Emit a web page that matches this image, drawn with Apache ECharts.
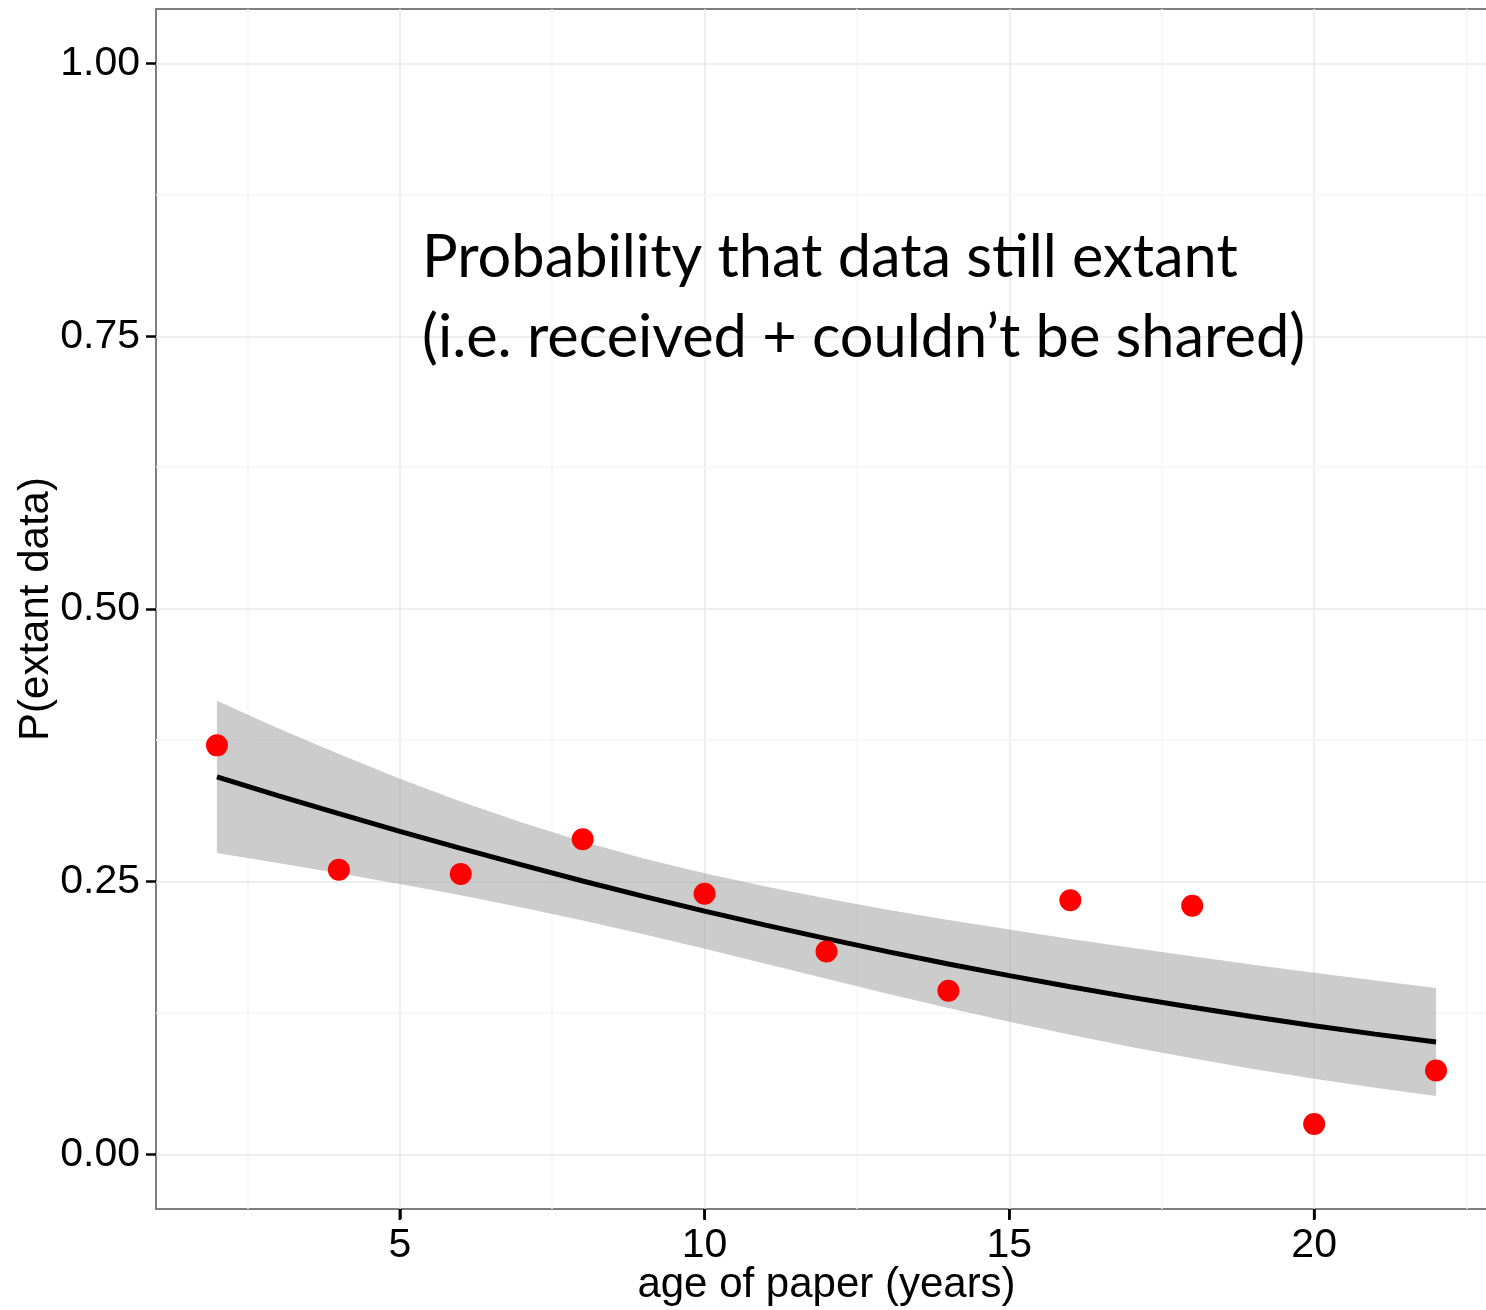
<!DOCTYPE html>
<html><head><meta charset="utf-8">
<script src="https://cdn.jsdelivr.net/npm/echarts@6/dist/echarts.min.js"></script>
<style>html,body{margin:0;padding:0;background:#fff}#c{width:1486px;height:1310px}</style>
</head><body><div id="c"></div>
<script>
// observed points: age of paper (years) vs share of data still extant
const ages = [2, 4, 6, 8, 10, 12, 14, 16, 18, 20, 22];
const extant = [0.375, 0.261, 0.257, 0.289, 0.239, 0.186, 0.150, 0.233, 0.228, 0.028, 0.077];

// fitted curve and confidence band
const fitAges = [2,3,4,5,6,7,8,9,10,11,12,13,14,15,16,17,18,19,20,21,22];
const fitValues = [0.3461,0.3290,0.3124,0.2962,0.2805,0.2654,0.2507,0.2366,0.2231,0.2102,0.1978,0.1859,0.1746,0.1639,0.1537,0.1440,0.1349,0.1262,0.1180,0.1103,0.1030];
const bandUpper = [0.4158,0.3908,0.3670,0.3445,0.3235,0.3044,0.2869,0.2714,0.2577,0.2456,0.2346,0.2244,0.2149,0.2061,0.1976,0.1895,0.1817,0.1740,0.1666,0.1595,0.1525];
const bandLower = [0.2764,0.2672,0.2578,0.2479,0.2375,0.2264,0.2145,0.2018,0.1885,0.1748,0.1610,0.1474,0.1343,0.1217,0.1098,0.0985,0.0881,0.0784,0.0694,0.0611,0.0535];

const xTicks = [5, 10, 15, 20];
const yTicks = [0, 0.25, 0.5, 0.75, 1];
const xMinor = [2.5, 7.5, 12.5, 17.5, 22.5];
const yMinor = [0.125, 0.375, 0.625, 0.875];
const xRange = [1, 23];
const yRange = [-0.05, 1.05];
const annotation = ['Probability that data still extant', '(i.e. received + couldn\u2019t be shared)'];

const FONT = "'Liberation Sans', Arial, Helvetica, sans-serif";
const ANNOT_FONT = "Lato, 'Open Sans', sans-serif";

// size the annotation font to the observed line width
const ctx = document.createElement('canvas').getContext('2d');
ctx.font = '100px ' + ANNOT_FONT;
const w100 = ctx.measureText(annotation[0]).width;
const annotSize = Math.round(100 * 816 / w100 * 10) / 10;
const annotLine = 80;
const annotTop = 266.7 - annotLine / 2 - 0.387 * annotSize + 14;

const gridLines = [];
xTicks.forEach(v => gridLines.push({xAxis: v, lineStyle: {color: '#e8e8e8', width: 1.5, type: 'solid'}}));
xMinor.forEach(v => gridLines.push({xAxis: v, lineStyle: {color: '#f6f6f6', width: 1.5, type: 'solid'}}));
yTicks.forEach(v => gridLines.push({yAxis: v, lineStyle: {color: '#e8e8e8', width: 1.5, type: 'solid'}}));
yMinor.forEach(v => gridLines.push({yAxis: v, lineStyle: {color: '#f6f6f6', width: 1.5, type: 'solid'}}));

const bandData = fitAges.map((x, i) => [x, bandLower[i], bandUpper[i]]);

const chart = echarts.init(document.getElementById('c'), null, {renderer: 'canvas'});
chart.setOption({
  animation: false,
  backgroundColor: '#fff',
  title: {
    text: annotation.join('\n'),
    left: 422, top: annotTop, padding: 0,
    textStyle: {fontFamily: ANNOT_FONT, fontSize: annotSize, fontWeight: 'normal', color: '#000', lineHeight: annotLine}
  },
  grid: {left: 156, right: -11, top: 9, bottom: 101, show: true, borderColor: '#7f7f7f', borderWidth: 2,
         backgroundColor: 'transparent', containLabel: false, outerBoundsMode: 'none'},
  xAxis: {
    type: 'value', min: xRange[0], max: xRange[1],
    axisLine: {show: true, onZero: false, lineStyle: {color: '#7f7f7f', width: 2}},
    axisTick: {show: true, inside: false, length: 10, lineStyle: {color: '#000', width: 2.5}, customValues: xTicks},
    axisLabel: {customValues: xTicks, fontSize: 41, color: '#000', fontFamily: FONT, margin: 16},
    splitLine: {show: false},
    name: 'age of paper (years)', nameLocation: 'middle', nameGap: 55, nameMoveOverlap: false,
    nameTextStyle: {fontSize: 42, color: '#000', fontFamily: FONT}
  },
  yAxis: {
    type: 'value', min: yRange[0], max: yRange[1],
    axisLine: {show: true, onZero: false, lineStyle: {color: '#7f7f7f', width: 2}},
    axisTick: {show: true, length: 10, lineStyle: {color: '#000', width: 2.5}, customValues: yTicks},
    axisLabel: {customValues: yTicks, fontSize: 41, color: '#000', fontFamily: FONT, margin: 16, formatter: v => v.toFixed(2)},
    splitLine: {show: false},
    name: 'P(extant data)', nameLocation: 'middle', nameGap: 99, nameRotate: 90, nameMoveOverlap: false,
    nameTextStyle: {fontSize: 42, color: '#000', fontFamily: FONT}
  },
  series: [
    {
      type: 'custom', silent: true, z: 2,
      data: bandData,
      encode: {x: 0, y: [1, 2]},
      renderItem: function (params, api) {
        if (params.dataIndex !== 0) return null;
        const pts = [];
        for (let i = 0; i < bandData.length; i++) pts.push(api.coord([bandData[i][0], bandData[i][2]]));
        for (let i = bandData.length - 1; i >= 0; i--) pts.push(api.coord([bandData[i][0], bandData[i][1]]));
        return {type: 'polygon', shape: {points: pts}, style: {fill: 'rgba(153,153,153,0.5)'}};
      },
      markLine: {silent: true, symbol: ['none', 'none'], label: {show: false}, z: 1, animation: false, data: gridLines}
    },
    {
      type: 'line', symbol: 'none', silent: true, z: 3,
      data: fitAges.map((x, i) => [x, fitValues[i]]),
      lineStyle: {color: '#000', width: 5}
    },
    {
      type: 'scatter', symbolSize: 22, z: 4,
      data: ages.map((x, i) => [x, extant[i]]),
      itemStyle: {color: '#ff0000', opacity: 1}
    }
  ]
});

// outward x-axis tick marks, positioned through the axis scale
const tickEls = xTicks.map(v => {
  const p = chart.convertToPixel({xAxisIndex: 0, yAxisIndex: 0}, [v, yRange[0]]);
  return {
    type: 'line', z: 100, silent: true,
    shape: {x1: p[0], y1: p[1], x2: p[0], y2: p[1] + 11},
    style: {stroke: '#000', lineWidth: 2.5}
  };
});
chart.setOption({graphic: {elements: tickEls}});
</script></body></html>
